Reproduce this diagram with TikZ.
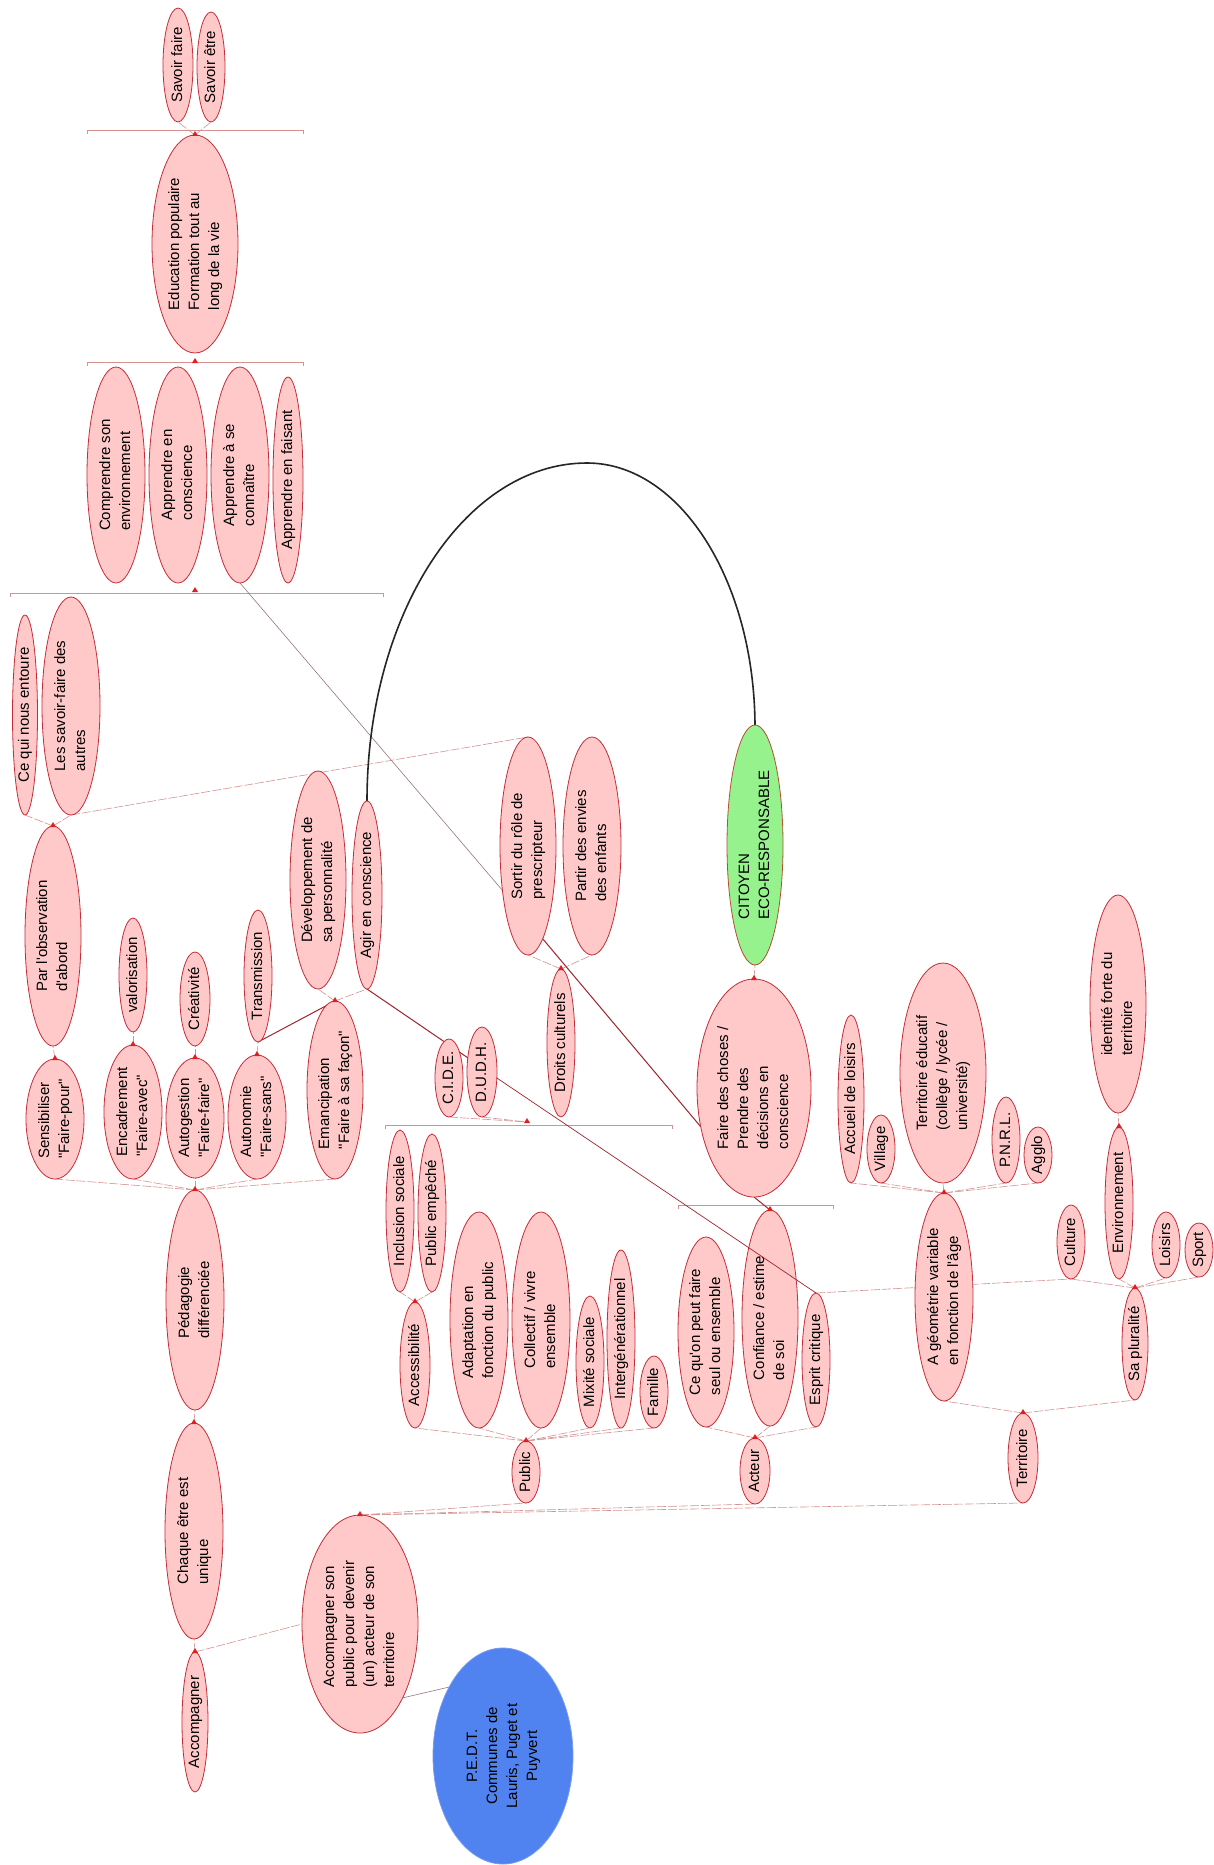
\documentclass[tikz,border=0pt]{standalone}
\usepackage{fontspec}
\setmainfont{Liberation Sans}[Ligatures=TeXOff]
\usetikzlibrary{shapes.geometric,calc,backgrounds}
\definecolor{pkfill}{RGB}{255,201,201}
\definecolor{pkdraw}{RGB}{196,45,55}
\definecolor{grfill}{RGB}{150,242,140}
\definecolor{grdraw}{RGB}{180,80,50}
\definecolor{blfill}{RGB}{80,130,240}
\definecolor{bldraw}{RGB}{120,155,235}
\definecolor{trc}{RGB}{215,145,145}
\definecolor{dkred}{RGB}{160,35,45}
\definecolor{jred}{RGB}{225,30,30}
\definecolor{glc}{RGB}{150,120,120}
\newcommand{\rt}[1]{\rotatebox{90}{\begin{tabular}{@{}l@{}}#1\end{tabular}}}
\newcommand{\rtc}[1]{\rotatebox{90}{\begin{tabular}{@{}c@{}}#1\end{tabular}}}
\newcommand{\jn}[1]{\fill[jred] ($(#1)+(-3,1)$) -- ($(#1)+(3,1)$) -- ($(#1)+(0,-4)$) -- cycle;}
\begin{document}
\begin{tikzpicture}[x=1pt,y=-1pt,
  pk/.style={ellipse,draw=pkdraw,fill=pkfill,line width=0.8pt,inner sep=-3pt,outer sep=0pt,font=\fontsize{15}{20}\selectfont},
  gr/.style={pk,draw=grdraw,fill=grfill},
  bl/.style={pk,draw=bldraw,fill=blfill},
  tr/.style={draw=trc,line width=0.6pt,dash pattern=on 9pt off 2pt},
  br/.style={draw=trc,line width=0.8pt},
  dk/.style={draw=dkred,line width=1pt},
  gl/.style={draw=glc,line width=0.6pt},
  arc/.style={draw=black!85,line width=1.6pt}]
\useasboundingbox (0,0) rectangle (1213,1865);

% ---------- nodes ----------
\node[pk,minimum width=30pt,minimum height=114pt] (sf) at (178,65) {\rt{Savoir faire}};
\node[pk,minimum width=28pt,minimum height=110pt] (se) at (211,67) {\rt{Savoir être}};
\node[pk,minimum width=86pt,minimum height=218pt] (edu) at (195,244) {\rt{Education populaire\\Formation tout au\\long de la vie}};
\node[pk,minimum width=58pt,minimum height=216pt] (comp) at (116,475) {\rt{Comprendre son\\environnement}};
\node[pk,minimum width=58pt,minimum height=216pt] (acon) at (178,475) {\rt{Apprendre en\\conscience}};
\node[pk,minimum width=58pt,minimum height=216pt] (ase) at (240,475) {\rt{Apprendre à se\\connaître}};
\node[pk,minimum width=30pt,minimum height=206pt] (afa) at (288,480) {\rt{Apprendre en faisant}};
\node[pk,minimum width=25pt,minimum height=200pt] (cqn) at (25,715) {\rt{Ce qui nous entoure}};
\node[pk,minimum width=58pt,minimum height=218pt] (lsf) at (71,706) {\rt{Les savoir-faire des\\autres}};
\node[pk,minimum width=56pt,minimum height=220pt] (obs) at (53,936) {\rt{Par l'observation\\d'abord}};
\node[pk,minimum width=56pt,minimum height=218pt] (dev) at (318,880) {\rt{Développement de\\sa personnalité}};
\node[pk,minimum width=30pt,minimum height=188pt] (agir) at (367,895) {\rt{Agir en conscience}};
\node[pk,minimum width=56pt,minimum height=218pt] (sortir) at (528,846) {\rt{Sortir du rôle de\\prescripteur}};
\node[pk,minimum width=58pt,minimum height=218pt] (partir) at (592,846) {\rt{Partir des envies\\des enfants}};
\node[gr,minimum width=56pt,minimum height=240pt] (cit) at (755,845) {\rt{CITOYEN\\ECO-RESPONSABLE}};
\node[pk,minimum width=28pt,minimum height=114pt] (val) at (133,975) {\rt{valorisation}};
\node[pk,minimum width=30pt,minimum height=94pt] (crea) at (195,999) {\rt{Créativité}};
\node[pk,minimum width=28pt,minimum height=132pt] (trans) at (258,976) {\rt{Transmission}};
\node[pk,minimum width=58pt,minimum height=120pt] (sens) at (55,1119) {\rt{Sensibiliser\\"Faire-pour"}};
\node[pk,minimum width=58pt,minimum height=134pt] (enc) at (133,1112) {\rt{Encadrement\\"Faire-avec"}};
\node[pk,minimum width=58pt,minimum height=120pt] (autog) at (195,1118) {\rt{Autogestion\\"Faire-faire"}};
\node[pk,minimum width=58pt,minimum height=124pt] (auton) at (257,1117) {\rt{Autonomie\\"Faire-sans"}};
\node[pk,minimum width=56pt,minimum height=178pt] (eman) at (335,1090) {\rt{Emancipation\\"Faire à sa façon"}};
\node[pk,minimum width=58pt,minimum height=220pt] (peda) at (195,1300) {\rt{Pédagogie\\différenciée}};
\node[pk,minimum width=28pt,minimum height=78pt] (cide) at (449,1078) {\rt{C.I.D.E.}};
\node[pk,minimum width=30pt,minimum height=90pt] (dudh) at (482,1072) {\rt{D.U.D.H.}};
\node[pk,minimum width=28pt,minimum height=148pt] (droits) at (561,1043) {\rt{Droits culturels}};
\node[pk,minimum width=114pt,minimum height=218pt] (faire) at (754,1088) {\rt{Faire des choses /\\Prendre des\\décisions en\\conscience}};
\node[pk,minimum width=28pt,minimum height=162pt] (incl) at (400,1211) {\rt{Inclusion sociale}};
\node[pk,minimum width=28pt,minimum height=158pt] (pemp) at (432,1213) {\rt{Public empêché}};
\node[pk,minimum width=30pt,minimum height=126pt] (access) at (415,1365) {\rt{Accessibilité}};
\node[pk,minimum width=58pt,minimum height=216pt] (adapt) at (479,1320) {\rt{Adaptation en\\fonction du public}};
\node[pk,minimum width=58pt,minimum height=216pt] (coll) at (541,1320) {\rt{Collectif / vivre\\ensemble}};
\node[pk,minimum width=28pt,minimum height=132pt] (mix) at (590,1362) {\rt{Mixité sociale}};
\node[pk,minimum width=28pt,minimum height=178pt] (inter) at (621,1339) {\rt{Intergénérationnel}};
\node[pk,minimum width=28pt,minimum height=72pt] (fam) at (654,1392) {\rt{Famille}};
\node[pk,minimum width=28pt,minimum height=62pt] (public) at (526,1472) {\rt{Public}};
\node[pk,minimum width=56pt,minimum height=190pt] (cqon) at (706,1332) {\rt{Ce qu'on peut faire\\seul ou ensemble}};
\node[pk,minimum width=56pt,minimum height=216pt] (conf) at (770,1318) {\rt{Confiance / estime\\de soi}};
\node[pk,minimum width=28pt,minimum height=134pt] (esprit) at (816,1360) {\rt{Esprit critique}};
\node[pk,minimum width=30pt,minimum height=66pt] (acteur) at (755,1471) {\rt{Acteur}};
\node[pk,minimum width=26pt,minimum height=168pt] (accueil) at (851,1099) {\rt{Accueil de loisirs}};
\node[pk,minimum width=28pt,minimum height=68pt] (village) at (881,1149) {\rt{Village}};
\node[pk,minimum width=86pt,minimum height=220pt] (tedu) at (943,1073) {\rt{Territoire éducatif\\(collège / lycée /\\université)}};
\node[pk,minimum width=28pt,minimum height=86pt] (pnrl) at (1006,1140) {\rt{P.N.R.L.}};
\node[pk,minimum width=28pt,minimum height=56pt] (agglo) at (1038,1155) {\rt{Agglo}};
\node[pk,minimum width=58pt,minimum height=208pt] (geo) at (944,1297) {\rt{A géométrie variable\\en fonction de l'âge}};
\node[pk,minimum width=56pt,minimum height=218pt] (ident) at (1118,1004) {\rt{identité forte du\\territoire}};
\node[pk,minimum width=28pt,minimum height=152pt] (env) at (1119,1203) {\rt{Environnement}};
\node[pk,minimum width=28pt,minimum height=74pt] (cult) at (1071,1242) {\rt{Culture}};
\node[pk,minimum width=28pt,minimum height=66pt] (lois) at (1166,1245) {\rt{Loisirs}};
\node[pk,minimum width=28pt,minimum height=54pt] (sport) at (1199,1250) {\rt{Sport}};
\node[pk,minimum width=26pt,minimum height=112pt] (plur) at (1135,1344) {\rt{Sa pluralité}};
\node[pk,minimum width=30pt,minimum height=90pt] (terr) at (1023,1458) {\rt{Territoire}};
\node[pk,minimum width=58pt,minimum height=216pt] (chaque) at (194,1531) {\rt{Chaque être est\\unique}};
\node[pk,minimum width=26pt,minimum height=140pt] (accomp) at (195,1722) {\rt{Accompagner}};
\node[pk,minimum width=116pt,minimum height=218pt] (accson) at (360,1624) {\rt{Accompagner son\\public pour devenir\\(un) acteur de son\\territoire}};
\node[bl,minimum width=140pt,minimum height=216pt] (pedt) at (503,1756) {\rtc{P.E.D.T.\\Communes de\\Lauris, Puget et\\Puyvert}};

% ---------- bracket coordinates ----------
\coordinate (b1a) at (87,130);  \coordinate (b1b) at (303,130); \coordinate (b1j) at (195,131);
\coordinate (b2a) at (87,362);  \coordinate (b2b) at (303,362); \coordinate (b2j) at (195,362);
\coordinate (b3a) at (10,593);  \coordinate (b3b) at (383,593); \coordinate (b3j) at (195,591);
\coordinate (b4a) at (385,1125); \coordinate (b4b) at (672,1125); \coordinate (b4j) at (527,1122);
\coordinate (b5a) at (678,1205); \coordinate (b5b) at (833,1205);

\begin{pgfonlayer}{background}
\fill[white] (0,0) rectangle (1213,1865);
% brackets
\foreach \a/\b in {b1a/b1b,b2a/b2b,b3a/b3b,b4a/b4b,b5a/b5b}{
  \draw[br] ($(\a)+(0,4)$) -- (\a) -- (\b) -- ($(\b)+(0,4)$);
}
% tree connectors
\foreach \c in {sf,se} \draw[tr] (edu.north) -- (\c.south);
\foreach \c in {cqn,lsf} \draw[tr] (obs.north) -- (\c.south);
\draw[tr] (sens.north) -- (obs.south);
\draw[tr] (enc.north) -- (val.south);
\draw[tr] (autog.north) -- (crea.south);
\draw[tr] (auton.north) -- (trans.south);
\foreach \c in {dev,agir} \draw[tr] (eman.north) -- (\c.south);
\foreach \c in {sens,enc,autog,auton,eman} \draw[tr] (peda.north) -- (\c.south);
\draw[tr] (chaque.north) -- (peda.south);
\draw[tr] (accomp.north) -- (chaque.south);
\draw[tr] (accomp.north) -- (accson.west);
\foreach \c in {sortir,partir} \draw[tr] (droits.north) -- (\c.south);
\draw[tr] (faire.north) -- (cit.south);
\foreach \c in {cide,dudh} \draw[tr] (\c.south) -- (b4j);
\foreach \c in {incl,pemp} \draw[tr] (access.north) -- (\c.south);
\foreach \c in {access,adapt,coll,mix,inter,fam} \draw[tr] (public.north) -- (\c.south);
\foreach \c in {cqon,conf,esprit} \draw[tr] (acteur.north) -- (\c.south);
\foreach \c in {accueil,village,tedu,pnrl,agglo} \draw[tr] (geo.north) -- (\c.south);
\draw[tr] (env.north) -- (ident.south);
\foreach \c in {cult,env,lois,sport} \draw[tr] (plur.north) -- (\c.south);
\foreach \c in {geo,plur} \draw[tr] (terr.north) -- (\c.south);
\foreach \c in {public,acteur,terr} \draw[tr] (accson.north) -- (\c.south);
% cross links
\draw[tr] (lsf.south) -- (sortir.north);
\draw[gl] (ase.south) -- (sortir.240);
\draw[dk] (sortir.279) -- (faire.216);
\draw[dk] (trans.south) -- (eman.north);
\draw[dk] (agir.south) -- (dudh.135);
\draw[dk] (faire.south) -- (conf.north);
\draw[tr] (esprit.north) -- (cult.south);
\draw[gl] (pedt.128) -- (accson.300);
% black arc
\draw[arc] (agir.north) .. controls (367,614) and (465,463) .. (587,463)
  .. controls (679,463) and (754,579) .. (cit.north);
\end{pgfonlayer}

\draw[draw=dkred,line width=0.7pt] (dudh.338) -- (esprit.north);

% junction markers
\foreach \c in {edu,obs,sens,enc,autog,auton,eman,peda,chaque,accomp,droits,faire,access,public,acteur,geo,env,plur,terr,accson,conf}{
  \jn{\c.north}
}
\jn{b2j}
\jn{b3j}
\jn{b4j}
\end{tikzpicture}
\end{document}
